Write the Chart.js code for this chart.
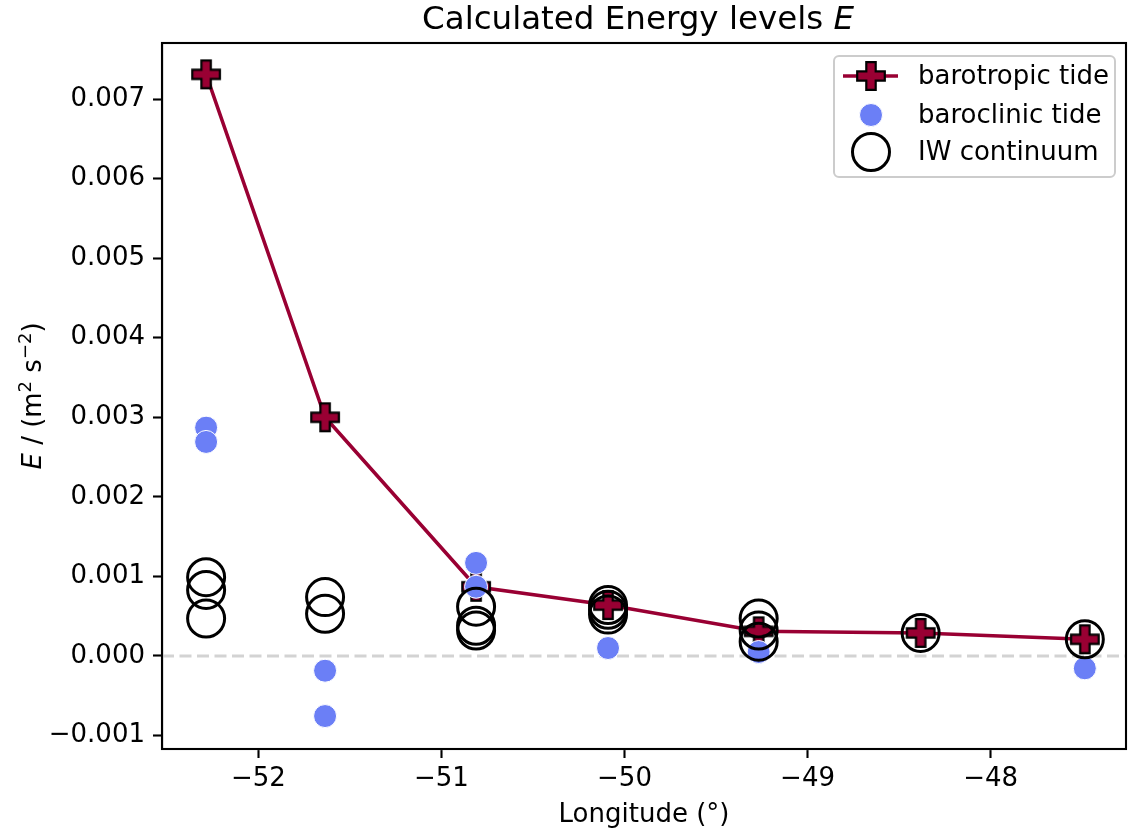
<!DOCTYPE html>
<html>
<head>
<meta charset="utf-8">
<script src="https://cdn.jsdelivr.net/npm/chart.js@4/dist/chart.umd.min.js"></script>
<style>
  body { margin: 0; background: #fff; }
  canvas { display: block; }
</style>
</head>
<body>
<canvas id="chartEnergy" width="1129" height="831"></canvas>
<script>
// data
const lonBarotropic = [-52.286, -51.636, -50.811, -50.09, -49.267, -48.382, -47.485]
const eBarotropic = [0.00731, 0.00300, 0.00087, 0.00064, 0.00031, 0.00029, 0.00021]

const lonBaroclinic = [-52.286, -52.286, -51.636, -51.636, -50.811, -50.811, -50.09, -49.267, -47.485]
const eBaroclinic = [0.00287, 0.00269, -0.000185, -0.000755, 0.00117, 0.00087, 0.0001, 0.00005, -0.000155]

const lonContinuum = [-52.286, -52.286, -52.286, -51.636, -51.636, -50.811, -50.811, -50.811, -50.09, -50.09, -50.09, -49.267, -49.267, -49.267, -48.382, -47.485]
const eContinuum = [0.00099, 0.00083, 0.00047, 0.00074, 0.00053, 0.00062, 0.00038, 0.00032, 0.00064, 0.00058, 0.00052, 0.00047, 0.00032, 0.00018, 0.00029, 0.00021]

const xTickValues = [-52, -51, -50, -49, -48]
const yTickValues = [-0.001, 0, 0.001, 0.002, 0.003, 0.004, 0.005, 0.006, 0.007]

const seriesNames = ['barotropic tide', 'baroclinic tide', 'IW continuum']

const FONT = '"DejaVu Sans", sans-serif'
const crimson = '#990033'
const blue = '#6b7ff6'

const toPoints = (xs, ys) => xs.map((x, i) => ({ x: x, y: ys[i] }))
const minus = s => s.replace('-', '\u2212')

// filled plus marker like matplotlib 'P'
function makePlus(){
    const size = 32
    const c = document.createElement('canvas')
    c.width = size
    c.height = size
    const g = c.getContext('2d')
    const h = 13.8, t = 4.7, m = size / 2
    g.beginPath()
    g.moveTo(m - t, m - h)
    g.lineTo(m + t, m - h)
    g.lineTo(m + t, m - t)
    g.lineTo(m + h, m - t)
    g.lineTo(m + h, m + t)
    g.lineTo(m + t, m + t)
    g.lineTo(m + t, m + h)
    g.lineTo(m - t, m + h)
    g.lineTo(m - t, m + t)
    g.lineTo(m - h, m + t)
    g.lineTo(m - h, m - t)
    g.lineTo(m - t, m - t)
    g.closePath()
    g.fillStyle = crimson
    g.fill()
    g.lineWidth = 2.2
    g.lineJoin = 'miter'
    g.strokeStyle = '#000'
    g.stroke()
    return c
}
const plusMarker = makePlus()

// text made of pieces with different styles
function drawPieces(ctx, pieces, x, y){
    let total = 0
    pieces.forEach(p => {
        ctx.font = p.font
        p.w = ctx.measureText(p.text).width
        total += p.w
    })
    let cx = x - total / 2
    ctx.textAlign = 'left'
    ctx.textBaseline = 'alphabetic'
    pieces.forEach(p => {
        ctx.font = p.font
        ctx.fillText(p.text, cx, y - (p.rise || 0))
        cx += p.w
    })
}

const extras = {
    id: 'extras',
    beforeDatasetsDraw(chart){
        const { ctx, chartArea: a, scales } = chart
        const y0 = scales.y.getPixelForValue(0)
        ctx.save()
        ctx.strokeStyle = '#d3d3d3'
        ctx.lineWidth = 3.2
        ctx.setLineDash([12, 5.5])
        ctx.beginPath()
        ctx.moveTo(a.left, y0)
        ctx.lineTo(a.right, y0)
        ctx.stroke()
        ctx.restore()
    },
    afterDraw(chart){
        const { ctx, chartArea: a } = chart
        ctx.save()
        // frame
        ctx.strokeStyle = '#000'
        ctx.lineWidth = 2.1
        ctx.strokeRect(a.left, a.top, a.right - a.left, a.bottom - a.top)

        ctx.fillStyle = '#000'
        // title
        drawPieces(ctx, [
            { text: 'Calculated Energy levels ', font: `32.5px ${FONT}` },
            { text: 'E', font: `oblique 32.5px ${FONT}` }
        ], (a.left + a.right) / 2 - 6, 29)

        // x label
        drawPieces(ctx, [{ text: 'Longitude (°)', font: `26px ${FONT}` }], (a.left + a.right) / 2, 822)

        // y label
        ctx.save()
        ctx.translate(41, (a.top + a.bottom) / 2)
        ctx.rotate(-Math.PI / 2)
        drawPieces(ctx, [
            { text: 'E', font: `oblique 26px ${FONT}` },
            { text: ' / (m', font: `26px ${FONT}` },
            { text: '2', font: `18px ${FONT}`, rise: 10 },
            { text: ' s', font: `26px ${FONT}` },
            { text: '\u22122', font: `18px ${FONT}`, rise: 10 },
            { text: ')', font: `26px ${FONT}` }
        ], 0, 0)
        ctx.restore()

        // legend
        const bx = 834, by = 56, bw = 281, bh = 121
        ctx.beginPath()
        ctx.roundRect(bx, by, bw, bh, 5)
        ctx.fillStyle = 'rgba(255,255,255,0.8)'
        ctx.fill()
        ctx.strokeStyle = '#cccccc'
        ctx.lineWidth = 2
        ctx.stroke()

        const mx = 871, rows = [76, 115, 152]
        ctx.strokeStyle = crimson
        ctx.lineWidth = 3.5
        ctx.beginPath()
        ctx.moveTo(843, rows[0])
        ctx.lineTo(898, rows[0])
        ctx.stroke()
        ctx.drawImage(plusMarker, mx - plusMarker.width / 2, rows[0] - plusMarker.height / 2)

        ctx.beginPath()
        ctx.arc(mx, rows[1], 11.5, 0, Math.PI * 2)
        ctx.fillStyle = blue
        ctx.fill()
        ctx.strokeStyle = '#fff'
        ctx.lineWidth = 1
        ctx.stroke()

        ctx.beginPath()
        ctx.arc(mx, rows[2], 18.5, 0, Math.PI * 2)
        ctx.strokeStyle = '#000'
        ctx.lineWidth = 3
        ctx.stroke()

        ctx.fillStyle = '#000'
        ctx.font = `26px ${FONT}`
        ctx.textAlign = 'left'
        ctx.textBaseline = 'middle'
        seriesNames.forEach((name, i) => ctx.fillText(name, 918, rows[i] + 1))
        ctx.restore()
    }
}

const ctx = document.querySelector('#chartEnergy').getContext('2d')

new Chart(ctx, {
    type: 'scatter',
    data: {
        datasets: [
            {
                label: seriesNames[2],
                data: toPoints(lonContinuum, eContinuum),
                pointStyle: 'circle',
                pointRadius: 18.5,
                backgroundColor: 'rgba(0,0,0,0)',
                borderColor: '#000',
                borderWidth: 3,
                order: 1
            },
            {
                label: seriesNames[1],
                data: toPoints(lonBaroclinic, eBaroclinic),
                pointStyle: 'circle',
                pointRadius: 11.5,
                backgroundColor: blue,
                borderColor: '#fff',
                borderWidth: 1,
                order: 2
            },
            {
                label: seriesNames[0],
                data: toPoints(lonBarotropic, eBarotropic),
                showLine: true,
                borderColor: crimson,
                borderWidth: 3.5,
                pointStyle: plusMarker,
                pointRadius: 15,
                order: 3
            }
        ]
    },
    options: {
        responsive: false,
        devicePixelRatio: 1,
        animation: false,
        layout: {
            autoPadding: false,
            padding: { left: 0, right: 3, top: 43, bottom: 0 }
        },
        plugins: {
            legend: { display: false },
            tooltip: { enabled: false },
            title: { display: false }
        },
        scales: {
            x: {
                type: 'linear',
                min: -52.527,
                max: -47.26,
                afterFit: s => { s.height = 82 },
                afterBuildTicks: s => { s.ticks = xTickValues.map(v => ({ value: v })) },
                border: { display: true, color: '#000', width: 2.1 },
                grid: { drawOnChartArea: false, drawTicks: true, tickLength: 9, tickWidth: 2.1, tickColor: '#000' },
                ticks: {
                    autoSkip: false,
                    maxRotation: 0,
                    padding: 6,
                    color: '#000',
                    font: { family: FONT, size: 26 },
                    callback: v => minus(String(v))
                }
            },
            y: {
                type: 'linear',
                min: -0.001169,
                max: 0.007704,
                afterFit: s => { s.width = 162 },
                afterBuildTicks: s => { s.ticks = yTickValues.map(v => ({ value: v })) },
                border: { display: true, color: '#000', width: 2.1 },
                grid: { drawOnChartArea: false, drawTicks: true, tickLength: 9, tickWidth: 2.1, tickColor: '#000' },
                ticks: {
                    autoSkip: false,
                    padding: 8,
                    color: '#000',
                    font: { family: FONT, size: 26 },
                    callback: v => minus(v.toFixed(3))
                }
            }
        }
    },
    plugins: [extras]
})
</script>
</body>
</html>
